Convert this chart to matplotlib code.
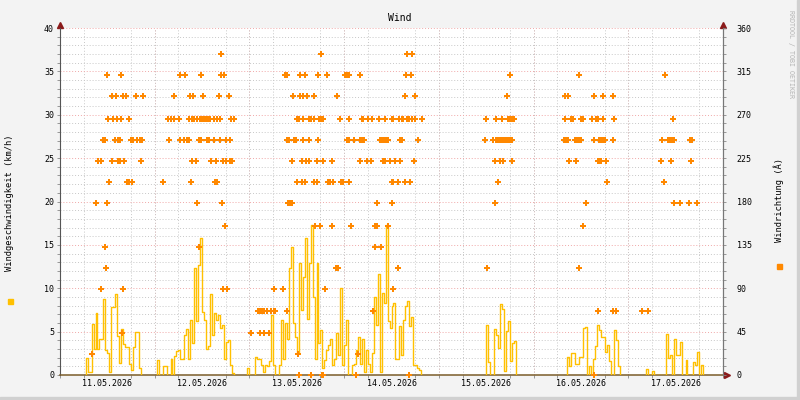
import numpy as np
import matplotlib.pyplot as plt
from matplotlib.patches import Rectangle
from matplotlib.ticker import MultipleLocator

# x axis: hours since 11.05.2026 00:00, 7 days
day_labels = ['11.05.2026', '12.05.2026', '13.05.2026', '14.05.2026',
              '15.05.2026', '16.05.2026', '17.05.2026']

# wind speed (km/h), half-hour steps, one list per active stretch
seg_start = [6.5, 24.5, 47.5, 108.0, 128.5, 148.5]
spd_1105 = [2.0, 0.3, 0.3, 5.9, 3.0, 7.2, 3.0, 4.1, 4.1, 8.8, 2.9, 2.5, 0.3, 7.8, 7.8,
            9.3, 4.5, 1.4, 5.3, 3.6, 3.2, 3.2, 1.3, 0.6, 3.2, 5.0, 5.0, 0.8]
spd_1205 = [1.7, 0, 0, 1.0, 1.0, 0, 0, 1.9, 0, 2.2, 2.8, 2.9, 1.9, 1.9, 4.6, 5.3, 1.9,
            6.3, 3.7, 12.3, 6.2, 12.7, 15.8, 7.3, 6.3, 3.0, 3.3, 9.3, 4.6, 7.1, 6.3,
            6.9, 5.4, 5.8, 1.9, 3.8, 4.0, 1.2, 0.2]
spd_1305 = [0.8, 0, 0, 0, 2.1, 1.9, 1.8, 1.2, 0.4, 1.2, 1.0, 1.6, 6.9, 1.2, 0, 0, 1.2,
            6.3, 1.9, 6.0, 4.2, 12.3, 14.8, 6.0, 4.4, 2.5, 12.9, 7.5, 11.3, 15.8, 6.5,
            12.9, 17.3, 9.0, 1.9, 12.9, 3.7, 5.2, 0.8, 1.7, 2.9, 3.5, 4.2, 1.2, 1.9,
            4.8, 2.3, 10.0, 1.2, 3.5, 6.3, 0, 0, 1.2, 1.3, 2.9, 4.4, 1.3, 4.2, 0.4,
            2.9, 1.3, 0.4, 2.5, 9.0, 5.8, 11.7, 0.4, 9.4, 8.3, 17.3, 6.2, 5.4, 7.9,
            8.3, 1.9, 1.9, 5.6, 2.3, 6.3, 7.9, 8.5, 5.6, 6.7, 1.2, 1.2, 0.8, 0.6]
spd_1505 = [5.8, 1.5, 0, 0, 5.3, 4.6, 3.1, 8.2, 7.6, 0.5, 5.1, 6.2, 1.6, 3.7, 3.9]
spd_1605 = [2.1, 1.0, 2.5, 2.5, 1.3, 1.3, 2.1, 2.1, 5.4, 5.5, 0, 1.0, 0, 1.9, 3.3, 5.8,
            5.2, 4.4, 4.4, 2.7, 3.5, 1.6, 0, 0, 5.2, 4.0, 1.0]
spd_1705 = [0.7, 0, 0, 0.5, 0, 0, 0, 0, 0, 0, 4.7, 2.0, 2.3, 0, 4.2, 2.3, 2.3, 3.8, 0,
            0, 1.7, 0, 0, 0, 1.5, 1.2, 2.7, 0, 1.1]
speed_segs = [spd_1105, spd_1205, spd_1305, spd_1505, spd_1605, spd_1705]

# wind direction (degrees) samples: hour, degree
dir_hours = [
    # 11.05
    8.2, 9.2, 9.7, 10.4, 10.5, 10.8, 11.4, 11.5, 11.6, 12.0, 12.0, 12.2, 12.5, 13.3,
    13.3, 13.5, 14.0, 14.3, 14.5, 14.7, 14.8, 15.3, 15.3, 15.5, 15.5, 15.6, 16.0, 16.0,
    16.3, 16.8, 17.0, 17.6, 17.6, 17.9, 18.2, 18.6, 19.3, 19.6, 20.3, 20.6, 20.8, 21.1,
    # 12.05
    26.2, 27.4, 27.7, 28.1, 29.0, 29.0, 30.2, 30.5, 30.5, 31.5, 31.8, 32.3, 32.8, 32.8,
    33.0, 33.3, 33.5, 33.5, 33.8, 34.0, 34.5, 34.7, 34.8, 35.1, 35.3, 35.4, 35.8, 35.8,
    36.1, 36.3, 36.6, 37.1, 37.3, 37.6, 37.8, 38.1, 38.3, 38.9, 38.9, 39.4, 39.6, 39.8,
    39.9, 40.2, 40.5, 40.6, 40.9, 40.9, 41.1, 41.4, 41.4, 41.6, 41.9, 42.1, 42.1, 42.4,
    42.7, 43.2, 43.2, 43.4, 43.5, 44.2,
    # 13.05
    48.5, 50.1, 50.7, 50.8, 51.3, 51.8, 51.8, 52.4, 53.0, 53.5, 54.1, 54.3, 54.5, 56.6,
    56.9, 57.4, 57.6, 57.6, 57.9, 58.1, 58.4, 58.9, 58.9, 59.1, 59.4, 59.9, 60.0, 60.1,
    60.3, 60.5, 60.6, 60.9, 60.9, 61.2, 61.2, 61.7, 61.7, 61.7, 62.2, 62.2, 62.4, 62.7,
    63.0, 63.2, 63.2, 63.7, 63.7, 64.4, 64.4, 64.4, 64.7, 65.1, 65.2, 65.5, 65.5, 65.7,
    66.0, 66.2, 66.2, 66.4, 66.6, 66.7, 66.7, 67.2, 67.7, 68.0, 68.5, 68.8, 69.0, 69.3,
    70.0, 70.3, 70.5, 70.9, 71.3, 71.8,
    # 14.05
    72.3, 72.8, 72.8, 73.3, 73.3, 73.3, 73.3, 73.8, 74.6, 75.0, 75.6, 75.9, 76.1, 76.1,
    76.4, 76.6, 76.9, 77.1, 77.9, 78.1, 78.9, 79.1, 79.3, 79.7, 79.9, 80.2, 80.4, 80.9,
    81.2, 81.4, 81.7, 81.9, 82.2, 82.4, 82.4, 82.7, 83.0, 83.2, 83.5, 83.7, 84.0, 84.0,
    84.2, 84.5, 84.5, 84.5, 85.0, 85.7, 85.7, 86.0, 86.2, 86.2, 86.6, 86.7, 87.0, 87.3,
    87.5, 87.8, 87.9, 88.0, 88.5, 88.5, 88.8, 89.0, 89.3, 89.3, 89.8, 90.0, 90.0, 90.8,
    91.8,
    # 15.05
    107.8, 108.0, 108.3, 109.6, 110.1, 110.1, 110.4, 110.6, 111.1, 111.1, 111.6, 111.6,
    112.1, 112.1, 112.3, 112.6, 113.1, 113.2, 113.6, 113.6, 114.1, 114.1, 114.1, 114.6,
    114.6, 114.6, 115.1,
    # 16.05
    127.6, 128.0, 128.0, 128.1, 128.6, 128.7, 129.1, 129.6, 130.1, 130.5, 130.8, 131.0,
    131.4, 131.4, 131.6, 131.9, 132.1, 132.4, 132.4, 133.4, 134.7, 135.2, 135.4, 135.4,
    135.7, 136.2, 136.2, 136.4, 136.7, 136.7, 137.2, 137.2, 137.7, 137.7, 137.7, 138.2,
    138.4, 138.7, 140.0, 140.0, 140.2, 140.5, 141.0,
    # 17.05
    147.6, 149.1, 152.4, 152.6, 153.1, 153.4, 154.0, 154.5, 154.9, 155.0, 155.4, 155.5,
    155.7, 157.2, 159.5, 159.7, 160.0, 160.2, 161.3,
]
dir_deg = [
    # 11.05
    22, 178, 222, 222, 89, 244, 133, 244, 111, 311, 178, 266, 200, 289,
    222, 266, 244, 289, 266, 244, 222, 244, 222, 311, 266, 44, 289, 89,
    222, 289, 200, 266, 200, 244, 200, 244, 289, 244, 244, 222, 244, 289,
    # 12.05
    200, 266, 244, 266, 289, 266, 266, 311, 244, 244, 311, 244, 266, 244,
    289, 200, 266, 222, 289, 266, 222, 266, 178, 244, 133, 266, 311, 244,
    266, 289, 266, 266, 244, 266, 244, 266, 222, 266, 244, 200, 222, 200,
    266, 289, 266, 244, 333, 311, 178, 222, 89, 311, 155, 244, 222, 89,
    289, 244, 222, 266, 222, 266,
    # 13.05
    44, 66, 66, 44, 66, 66, 44, 66, 44, 66, 66, 89, 66, 89,
    311, 66, 311, 244, 178, 244, 178, 178, 222, 289, 244, 244, 200, 266,
    22, 0, 266, 311, 289, 222, 200, 289, 266, 244, 311, 200, 222, 289,
    222, 266, 244, 266, 0, 200, 289, 266, 155, 200, 222, 311, 244, 266,
    155, 333, 266, 0, 0, 266, 222, 89, 311, 200, 200, 222, 155, 200,
    111, 289, 111, 266, 200, 200,
    # 14.05
    311, 311, 244, 311, 266, 244, 200, 155, 244, 0, 22, 311, 244, 222,
    266, 244, 266, 244, 222, 266, 222, 266, 66, 133, 155, 178, 155, 266,
    244, 133, 244, 222, 244, 266, 222, 244, 155, 244, 222, 222, 266, 200,
    178, 266, 200, 89, 222, 200, 111, 266, 244, 222, 266, 244, 266, 289,
    200, 311, 333, 266, 266, 0, 200, 311, 333, 266, 222, 289, 266, 244,
    266,
    # 15.05
    244, 266, 111, 244, 222, 178, 266, 244, 244, 200, 244, 222,
    266, 244, 222, 244, 244, 289, 266, 244, 311, 266, 244, 266,
    244, 222, 266,
    # 16.05
    244, 289, 266, 244, 244, 289, 222, 266, 266, 244, 222, 244,
    311, 111, 244, 266, 244, 266, 155, 178, 266, 0, 289, 244,
    266, 266, 222, 66, 244, 222, 244, 222, 289, 266, 244, 244,
    222, 200, 244, 66, 289, 266, 66,
    # 17.05
    66, 66, 222, 244, 200, 311, 244, 244, 222, 244, 266, 244,
    178, 178, 178, 244, 222, 244, 178,
]

plt.rcParams['font.family'] = 'DejaVu Sans Mono'

W, H = 800, 400
fig = plt.figure(figsize=(8, 4), dpi=100, facecolor='#f3f3f3')
ax = fig.add_axes([60 / W, 25 / H, 663 / W, 347 / H])
ax.set_facecolor('white')

# speed as step line
for start, vals in zip(seg_start, speed_segs):
    t = start + 0.5 * np.arange(len(vals) + 1)
    t = np.concatenate([[start], t])
    v = [0] + list(vals) + [0]
    ax.step(t, v, where='post', color='#ffc000', lw=1.0, zorder=3)

ax.set_xlim(0, 168)
ax.set_ylim(0, 40)

# grid
ax.yaxis.set_major_locator(MultipleLocator(5))
ax.yaxis.set_minor_locator(MultipleLocator(1))
ax.set_xticks([12 + 24 * i for i in range(7)])
ax.set_xticklabels(day_labels)
ax.xaxis.set_minor_locator(MultipleLocator(6))
ax.grid(which='minor', color='#c8c8c8', linestyle=(0, (1, 2)), lw=0.7, zorder=0)
ax.grid(which='major', axis='y', color='#f0a8a8', linestyle=(0, (1, 2)), lw=0.7, zorder=0)
for d in range(1, 7):
    ax.axvline(24 * d, color='#f0a8a8', linestyle=(0, (1, 2)), lw=0.7, zorder=0)
ax.set_axisbelow(True)

ax.tick_params(axis='y', which='both', direction='out', length=2, width=0.6,
               color='#888888', labelsize=6, pad=2.3)
ax.tick_params(axis='x', which='major', length=0, labelsize=6, pad=3)
ax.tick_params(axis='x', which='minor', direction='out', length=2, width=0.6,
               color='#888888')

ax.spines['top'].set_visible(False)
ax.spines['left'].set_color('#555555')
ax.spines['right'].set_color('#777777')
ax.spines['bottom'].set_color('#7a5c2a')
ax.spines['bottom'].set_linewidth(1.1)

# direction on right axis
ax2 = ax.twinx()
ax2.plot(dir_hours, dir_deg, linestyle='none', marker='P', ms=4, mew=0,
         color='#ff8800', zorder=4, clip_on=False)
ax2.set_ylim(0, 360)
ax2.yaxis.set_major_locator(MultipleLocator(45))
ax2.yaxis.set_minor_locator(MultipleLocator(9))
ax2.tick_params(axis='y', which='both', direction='out', length=2, width=0.6,
                color='#888888', labelsize=6, pad=8)
for s in ['top', 'left', 'bottom']:
    ax2.spines[s].set_visible(False)
ax2.spines['right'].set_color('#777777')

# axis arrows
arrow_c = '#8b1a1a'
ax.plot([0], [1.01], marker='^', ms=4, color=arrow_c, transform=ax.transAxes, clip_on=False)
ax.plot([1], [1.01], marker='^', ms=4, color=arrow_c, transform=ax.transAxes, clip_on=False)
ax.plot([1.006], [0], marker='>', ms=4, color=arrow_c, transform=ax.transAxes, clip_on=False)

# texts
fig.text(0.5, 1 - 18 / H, 'Wind', ha='center', va='center', fontsize=7)
fig.text(10 / W, 1 - 203 / H, 'Windgeschwindigkeit (km/h)', rotation=90,
         ha='center', va='center', fontsize=6.3)
fig.text(779 / W, 1 - 200 / H, 'Windrichtung (Â)', rotation=90,
         ha='center', va='center', fontsize=6.3)
fig.text(791 / W, 1 - 54 / H, 'RRDTOOL / TOBI OETIKER', rotation=270,
         ha='center', va='center', fontsize=4.8, color='#b4b4b4')

# legend squares
fig.add_artist(Rectangle((8 / W, 1 - 304 / H), 5 / W, 5 / H, transform=fig.transFigure,
                         color='#ffc000'))
fig.add_artist(Rectangle((777 / W, 1 - 269 / H), 5 / W, 5 / H, transform=fig.transFigure,
                         color='#ff8800'))

# frame
fig.add_artist(Rectangle((0, 0), 1, 3 / H, transform=fig.transFigure, color='#d0d0d0'))
fig.add_artist(Rectangle((1 - 3 / W, 0), 3 / W, 1, transform=fig.transFigure, color='#d0d0d0'))

fig.savefig('out.png', dpi=100, facecolor=fig.get_facecolor())
